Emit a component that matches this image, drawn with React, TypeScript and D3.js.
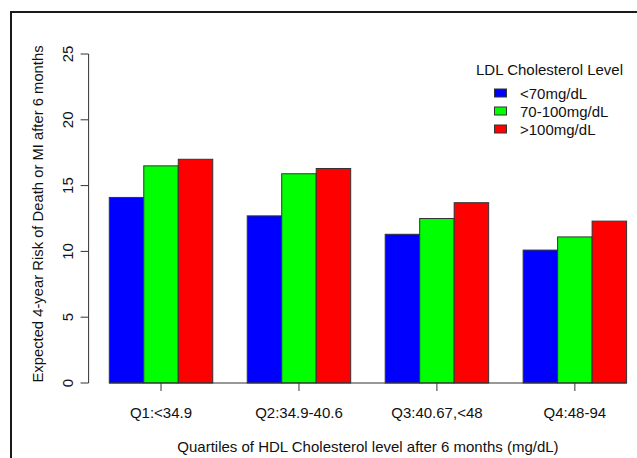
import React from "react";
import * as d3 from "d3";

// HDL quartile groups (x axis) and LDL level series (legend)
const quartiles = ["Q1:<34.9", "Q2:34.9-40.6", "Q3:40.67,<48", "Q4:48-94"];
const ldlLevels = ["<70mg/dL", "70-100mg/dL", ">100mg/dL"];
const ldlColors = ["#0000ff", "#00ff00", "#ff0000"];

// Expected 4-year risk (%) per quartile, one array per LDL level
const riskLow = [14.1, 12.7, 11.3, 10.1];
const riskMid = [16.5, 15.9, 12.5, 11.1];
const riskHigh = [17.0, 16.3, 13.7, 12.3];
const seriesValues = [riskLow, riskMid, riskHigh];

const yTicks = [0, 5, 10, 15, 20, 25];

const W = 637;
const H = 458;
const FONT = "'Liberation Sans', Arial, Helvetica, sans-serif";

export default function App() {
  // barplot-style unit axis: each group = 3 bars + 1 bar of space before it
  const unitsPerGroup = ldlLevels.length + 1;
  const totalUnits = quartiles.length * unitsPerGroup;
  const x = d3.scaleLinear().domain([0, totalUnits]).range([74.8, 626.6]);
  const y = d3.scaleLinear().domain([0, 25]).range([383, 54]);

  const plotLeft = x(0.4);
  const plotCenter = (x(0.4) + x(totalUnits + 0.6)) / 2;
  const yMid = 214;

  const bars: { key: string; x0: number; x1: number; v: number; c: string }[] = [];
  quartiles.forEach((q, gi) => {
    seriesValues.forEach((vals, si) => {
      const u = gi * unitsPerGroup + 1 + si;
      bars.push({ key: `${q}-${si}`, x0: x(u), x1: x(u + 1), v: vals[gi], c: ldlColors[si] });
    });
  });

  const groupCenter = (gi: number) => x(gi * unitsPerGroup + 1 + ldlLevels.length / 2);

  return (
    <svg
      width={W}
      height={H}
      style={{ position: "absolute", left: 0, top: 0, background: "#fff" }}
      fontFamily={FONT}
    >
      <rect x={0} y={0} width={W} height={H} fill="#fff" />
      {/* outer frame */}
      <rect x={11} y={12} width={W + 40} height={H + 40} fill="none" stroke="#1a1a1a" strokeWidth={2} />

      {/* bars */}
      {bars.map((b) => (
        <rect
          key={b.key}
          x={b.x0}
          y={y(b.v)}
          width={b.x1 - b.x0}
          height={y(0) - y(b.v)}
          fill={b.c}
          stroke="#333"
          strokeWidth={1}
        />
      ))}

      {/* baseline */}
      <line x1={x(1)} x2={x(totalUnits)} y1={y(0)} y2={y(0)} stroke="#333" strokeWidth={1.2} />

      {/* y axis */}
      <line x1={plotLeft} x2={plotLeft} y1={y(0)} y2={y(25)} stroke="#333" strokeWidth={1} />
      {yTicks.map((t) => (
        <g key={t}>
          <line x1={plotLeft - 8} x2={plotLeft} y1={y(t)} y2={y(t)} stroke="#333" strokeWidth={1} />
          <text
            transform={`translate(72.5,${y(t)}) rotate(-90)`}
            textAnchor="middle"
            fontSize={15}
            fill="#111"
          >
            {t}
          </text>
        </g>
      ))}
      <text
        transform={`translate(43,${yMid}) rotate(-90)`}
        textAnchor="middle"
        fontSize={14.8}
        fill="#111"
      >
        Expected 4-year Risk of Death or MI after 6 months
      </text>

      {/* x axis ticks and labels */}
      {quartiles.map((q, gi) => (
        <g key={q}>
          <line x1={groupCenter(gi)} x2={groupCenter(gi)} y1={y(0)} y2={y(0) + 8} stroke="#333" strokeWidth={1} />
          <text x={groupCenter(gi)} y={418} textAnchor="middle" fontSize={15} fill="#111">
            {q}
          </text>
        </g>
      ))}
      <text x={plotCenter} y={452} textAnchor="middle" fontSize={15} fill="#111">
        Quartiles of HDL Cholesterol level after 6 months (mg/dL)
      </text>

      {/* legend */}
      <text x={476} y={75} fontSize={15} fill="#111">
        LDL Cholesterol Level
      </text>
      {ldlLevels.map((lab, i) => (
        <g key={lab}>
          <rect x={494.5} y={89 + i * 18} width={12} height={8} fill={ldlColors[i]} stroke="#333" strokeWidth={1} />
          <text x={520} y={98.5 + i * 18} fontSize={15} fill="#111">
            {lab}
          </text>
        </g>
      ))}
    </svg>
  );
}
